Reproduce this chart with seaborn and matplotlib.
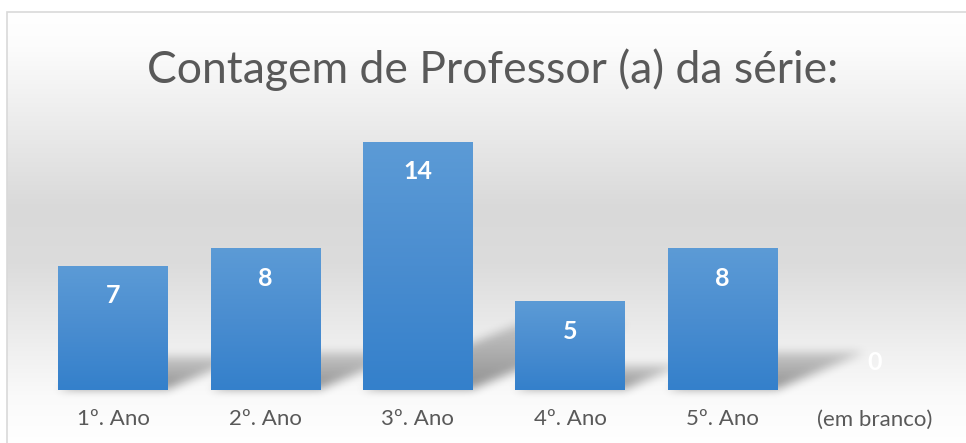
import numpy as np
import pandas as pd
import seaborn as sns
import matplotlib.pyplot as plt
from matplotlib.colors import LinearSegmentedColormap
from matplotlib.patches import Rectangle

# dados do gráfico
series = ['1º. Ano', '2º. Ano', '3º. Ano', '4º. Ano', '5º. Ano', '(em branco)']
contagem = [7, 8, 14, 5, 8, 0]
titulo = 'Contagem de Professor (a) da série:'

df = pd.DataFrame({'serie': series, 'contagem': contagem})

sns.set_theme(style='white')
plt.rcParams['font.family'] = ['Lato', 'DejaVu Sans']

W, H = 966, 443
fig = plt.figure(figsize=(W / 100, H / 100), dpi=100)
fig.patch.set_facecolor('white')


def box_blur(a, r, n=3):
    # desfoque simples (caixa repetida) nos dois eixos
    for _ in range(n):
        for axis in (0, 1):
            pad = [(0, 0), (0, 0)]
            pad[axis] = (r + 1, r)
            c = np.cumsum(np.pad(a, pad, mode='edge'), axis=axis)
            if axis == 0:
                a = (c[2 * r + 1:] - c[:-2 * r - 1]) / (2 * r + 1)
            else:
                a = (c[:, 2 * r + 1:] - c[:, :-2 * r - 1]) / (2 * r + 1)
    return a


# fundo com gradiente (estilo Excel)
bg = fig.add_axes([0, 0, 1, 1], zorder=0)
bg.axis('off')
fundo = LinearSegmentedColormap.from_list(
    'fundo', [(0, '#ffffff'), (0.08, '#fcfcfc'), (0.45, '#d9d9d9'),
              (0.58, '#dcdcdc'), (0.88, '#fafafa'), (1, '#ffffff')])
g = np.linspace(0, 1, 256).reshape(-1, 1)
bg.imshow(g, extent=[7, W + 5, -5, H - 12], aspect='auto', cmap=fundo, vmin=0, vmax=1)
bg.add_patch(Rectangle((7, -5), W, H - 12 + 5, fill=False, ec='#d9d9d9', lw=1.2))

# eixo das barras
ax = fig.add_axes([37 / W, (H - 390) / H, (951 - 37) / W, (390 - 106) / H], zorder=1)
ax.patch.set_alpha(0)
sns.barplot(data=df, x='serie', y='contagem', ax=ax, width=0.72,
            color='#5b9bd5', saturation=1, linewidth=0)
ax.set_xlim(-0.5, 5.5)
ax.set_ylim(0, 16)

# sombra em perspectiva atrás das barras
sombra = np.zeros((H, W))
yy = np.arange(H)[:, None]
xx = np.arange(W)[None, :]
for p in ax.patches:
    (px0, py0), (px1, py1) = ax.transData.transform(
        [(p.get_x(), p.get_y()), (p.get_x() + p.get_width(), p.get_y() + p.get_height())])
    h = py1 - py0
    if h <= 1:
        continue
    sh = 0.26 * h
    d = yy - py0 - 1
    dx = d * 2.4
    m = (d >= 0) & (d <= sh) & (xx >= px0 + dx) & (xx <= px1 + dx)
    sombra = np.maximum(sombra, m * 0.42 * (1 - 0.6 * np.clip(d / sh, 0, 1)))
sombra = box_blur(sombra, 4)
rgba = np.zeros((H, W, 4))
rgba[..., 3] = sombra
bg.imshow(rgba, extent=[0, W, 0, H], origin='lower', aspect='auto', zorder=2)
bg.set_xlim(0, W)
bg.set_ylim(0, H)

# gradiente nas barras
azul = LinearSegmentedColormap.from_list('azul', ['#5c9bd6', '#4a8dd0', '#3480cb'])
for p in ax.patches:
    x0, y0 = p.get_x(), p.get_y()
    x1, y1 = x0 + p.get_width(), y0 + p.get_height()
    if y1 <= y0:
        continue
    im = ax.imshow(g, extent=[x0, x1, y0, y1], aspect='auto', cmap=azul,
                   zorder=p.get_zorder() + 0.1)
    im.set_clip_path(p)

ax.set_xlim(-0.5, 5.5)
ax.set_ylim(0, 16)

for i, v in enumerate(contagem):
    ax.annotate(str(v), (i, v), xytext=(0, -30 if v > 0 else 28),
                textcoords='offset pixels', ha='center', va='center',
                color='white', fontweight='bold', fontsize=18, zorder=5)

sns.despine(ax=ax, left=True, bottom=True)
ax.set_xlabel('')
ax.set_ylabel('')
ax.set_yticks([])
ax.tick_params(axis='x', length=0, pad=14, labelsize=16, labelcolor='#595959')

fig.text(493 / W, 1 - 70 / H, titulo, ha='center', va='center',
         fontsize=32, color='#595959')

plt.savefig('out.png', dpi=100)
